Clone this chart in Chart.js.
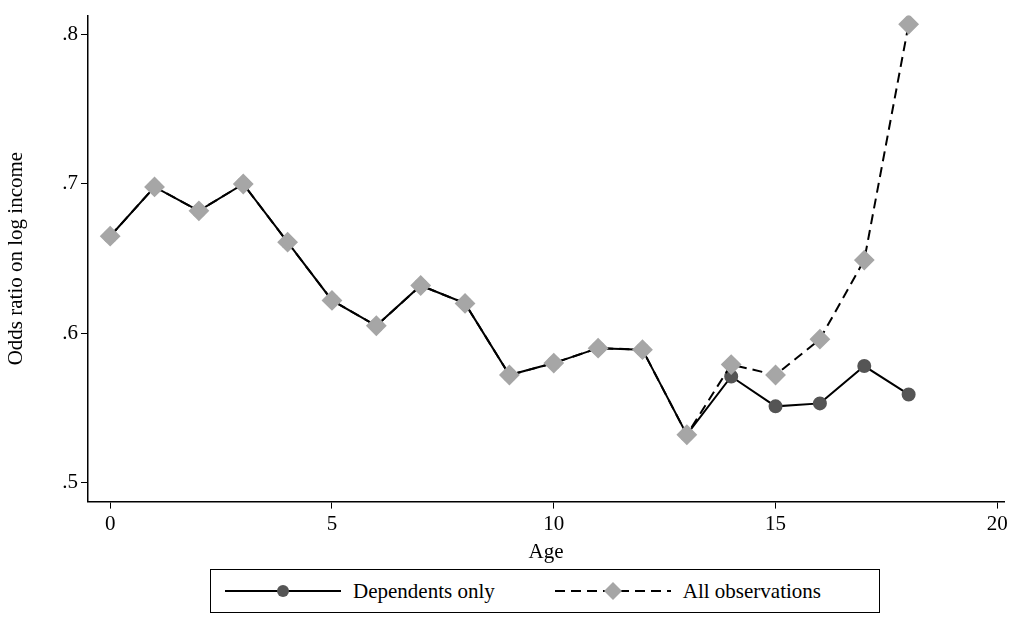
<!DOCTYPE html>
<html>
<head>
<meta charset="UTF-8">
<script src="https://cdn.jsdelivr.net/npm/chart.js"></script>
<style>
  body { margin: 0; background: #fff; font-family: "Liberation Serif", serif; }
  #wrap { width: 1018px; height: 565px; position: relative; }
  #legend { position: absolute; left: 210px; top: 569px; width: 670px; height: 44px; border: 1px solid #000; box-sizing: border-box;
    display: flex; align-items: center; font-size: 21px; }
  .item { display: flex; align-items: center; }
  canvas.sw { margin-right: 12px; }
</style>
</head>
<body>
<div id="wrap"><canvas id="c"></canvas></div>
<div id="legend">
  <div class="item" style="margin-left:14px"><canvas class="sw" id="s1" width="116" height="20"></canvas>Dependents only</div>
  <div class="item" style="margin-left:60px"><canvas class="sw" id="s2" width="116" height="20"></canvas>All observations</div>
</div>
<script>
const ages = [0,1,2,3,4,5,6,7,8,9,10,11,12,13,14,15,16,17,18];
const dependents = [.665,.698,.682,.700,.661,.622,.605,.632,.620,.572,.580,.590,.589,.532,.571,.551,.553,.578,.559];
const allObs = [.665,.698,.682,.700,.661,.622,.605,.632,.620,.572,.580,.590,.589,.532,.579,.572,.596,.649,.807];
const yTicks = [.5,.6,.7,.8];
const xTicks = [0,5,10,15,20];

const font = { family: "Liberation Serif", size: 21 };
new Chart(document.getElementById("c"), {
  type: "line",
  data: {
    datasets: [
      { label: "All observations", data: ages.map((a, i) => ({x: a, y: allObs[i]})),
        borderColor: "#000", borderWidth: 2, borderDash: [10, 6], pointStyle: "rectRot",
        pointRadius: 9, pointBackgroundColor: "#a6a6a6", pointBorderColor: "#a6a6a6", tension: 0, order: 1 },
      { label: "Dependents only", data: ages.map((a, i) => ({x: a, y: dependents[i]})),
        borderColor: "#000", borderWidth: 2, pointStyle: "circle",
        pointRadius: 6, pointBackgroundColor: "#555", pointBorderColor: "#555", tension: 0, order: 2 }
    ]
  },
  options: {
    responsive: true, maintainAspectRatio: false, animation: false,
    layout: { padding: { top: 0, right: 14 } },
    plugins: { legend: { display: false }, tooltip: { enabled: false } },
    scales: {
      x: { type: "linear", min: -0.5, max: 20.15,
        afterBuildTicks: s => { s.ticks = xTicks.map(v => ({value: v})); },
        ticks: { font, color: "#000", maxRotation: 0 },
        grid: { drawOnChartArea: false, color: "#000", tickLength: 7 },
        border: { color: "#000", width: 1.5 },
        title: { display: true, text: "Age", font, color: "#000", padding: 0 } },
      y: { min: 0.4872, max: 0.8128,
        afterBuildTicks: s => { s.ticks = yTicks.map(v => ({value: v})); },
        afterFit: s => { s.width = 88; },
        ticks: { font, color: "#000", callback: v => String(v).replace(/^0/, "") },
        grid: { drawOnChartArea: false, color: "#000", tickLength: 7 },
        border: { color: "#000", width: 1.5 },
        title: { display: true, text: "Odds ratio on log income", font, color: "#000", padding: 4 } }
    }
  }
});

function swatch(id, dash, marker) {
  const g = document.getElementById(id).getContext("2d");
  g.strokeStyle = "#000"; g.lineWidth = 2; g.setLineDash(dash);
  g.beginPath(); g.moveTo(0, 10); g.lineTo(116, 10); g.stroke();
  if (marker === "circle") {
    g.fillStyle = "#555"; g.beginPath(); g.arc(58, 10, 6, 0, 2 * Math.PI); g.fill();
  } else {
    g.fillStyle = "#a6a6a6"; g.beginPath();
    g.moveTo(58, 1); g.lineTo(67, 10); g.lineTo(58, 19); g.lineTo(49, 10); g.closePath(); g.fill();
  }
}
swatch("s1", [], "circle");
swatch("s2", [10, 6], "diamond");
</script>
</body>
</html>
